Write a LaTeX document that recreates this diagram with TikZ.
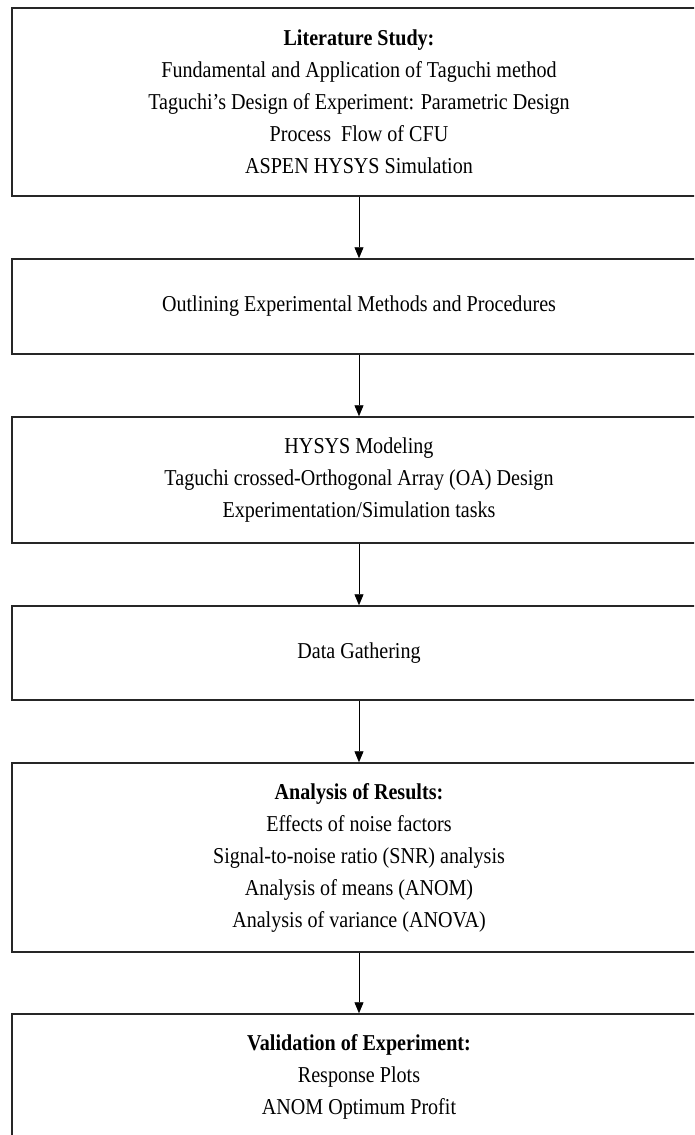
\documentclass[tikz,border=0pt]{standalone}
\usepackage{fontspec}
\setmainfont{Liberation Serif}[FakeStretch=0.885]
\usepackage{tikz}
\usetikzlibrary{arrows.meta}

\begin{document}
\begin{tikzpicture}[x=1pt,y=1pt,
        stagebox/.style={draw=black!85,line width=1.5pt,minimum width=694pt,align=center,
            inner sep=0pt,font=\fontsize{22.7}{32}\selectfont},
        flowarrow/.style={line width=0.9pt,-{Triangle[length=11pt,width=9pt]}}]
        \useasboundingbox (0,0) rectangle (694,-1135);
        \clip (0,0) rectangle (694,-1135);
        \node[stagebox,minimum height=188pt] (lit) at (359,-102) {\textbf{Literature Study:}\\Fundamental and Application of Taguchi method\\Taguchi’s Design of Experiment: Parametric Design\\Process\ \ Flow of CFU\\ASPEN HYSYS Simulation};
        \node[stagebox,minimum height=95pt] (outl) at (359,-306.5) {Outlining Experimental Methods and Procedures};
        \node[stagebox,minimum height=126pt] (hysys) at (359,-480) {HYSYS Modeling\\Taguchi crossed-Orthogonal Array (OA) Design\\Experimentation/Simulation tasks};
        \node[stagebox,minimum height=94pt] (data) at (359,-653) {Data Gathering};
        \node[stagebox,minimum height=189pt] (anal) at (359,-857.5) {\textbf{Analysis of Results:}\\Effects of noise factors\\Signal-to-noise ratio (SNR) analysis\\Analysis of means (ANOM)\\Analysis of variance (ANOVA)};
        \node[stagebox,minimum height=126pt] (valid) at (359,-1077) {\textbf{Validation of Experiment:}\\Response Plots\\ANOM Optimum Profit};
        \draw [flowarrow] (lit) -- (outl);
        \draw [flowarrow] (outl) -- (hysys);
        \draw [flowarrow] (hysys) -- (data);
        \draw [flowarrow] (data) -- (anal);
        \draw [flowarrow] (anal) -- (valid);
    \end{tikzpicture}
\end{document}
